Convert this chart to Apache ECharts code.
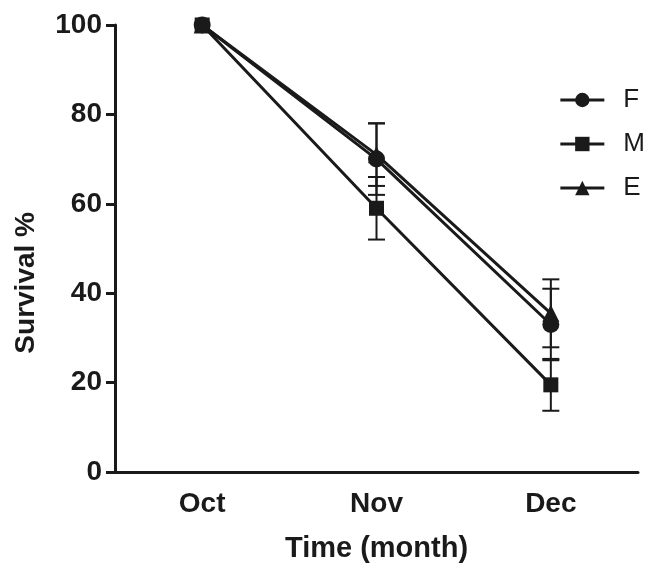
<!DOCTYPE html>
<html>
<head>
<meta charset="utf-8">
<script src="https://cdn.jsdelivr.net/npm/echarts@6/dist/echarts.min.js"></script>
<style>html,body{margin:0;padding:0;background:#fff;}#c{width:654px;height:568px;}</style>
</head>
<body>
<div id="c"></div>
<script>
var categories = ['Oct', 'Nov', 'Dec'];
var seriesNames = ['F', 'M', 'E'];
var valuesF = [100, 70, 33];
var valuesM = [100, 59, 19.5];
var valuesE = [100, 71, 35.5];
var errF = [0, 8, 8];
var errM = [0, 7, 5.8];
var errE = [0, 7, 7.6];
var yTicks = [0, 20, 40, 60, 80, 100];

var chart = echarts.init(document.getElementById('c'));
var FONT = '"Liberation Sans", Arial, sans-serif';
var BLACK = '#1a1a1a';

function errData(vals, errs) {
  var out = [];
  for (var i = 0; i < vals.length; i++) {
    if (errs[i] > 0) out.push([i, vals[i] - errs[i], vals[i] + errs[i]]);
  }
  return out;
}
function errSeries(vals, errs) {
  return {
    type: 'custom',
    data: errData(vals, errs),
    z: 1,
    silent: true,
    renderItem: function (params, api) {
      var lo = api.coord([api.value(0), api.value(1)]);
      var hi = api.coord([api.value(0), api.value(2)]);
      var hw = 8.5;
      var st = { stroke: BLACK, lineWidth: 2 };
      return {
        type: 'group',
        children: [
          { type: 'line', shape: { x1: hi[0], y1: hi[1], x2: lo[0], y2: lo[1] }, style: st },
          { type: 'line', shape: { x1: hi[0] - hw, y1: hi[1], x2: hi[0] + hw, y2: hi[1] }, style: st },
          { type: 'line', shape: { x1: lo[0] - hw, y1: lo[1], x2: lo[0] + hw, y2: lo[1] }, style: st }
        ]
      };
    }
  };
}
function lineSeries(name, vals, symbol, size, z) {
  return {
    name: name,
    type: 'line',
    data: vals,
    symbol: symbol,
    symbolSize: size,
    z: z,
    lineStyle: { color: BLACK, width: 3 },
    itemStyle: { color: BLACK },
    showAllSymbol: true,
    animation: false
  };
}

chart.setOption({
  animation: false,
  backgroundColor: '#fff',
  grid: { left: 115, right: 16, top: 25, bottom: 94, containLabel: false },
  legend: {
    orient: 'vertical',
    right: 4,
    top: 82,
    itemGap: 18,
    itemWidth: 44,
    itemHeight: 18,
    lineStyle: { width: 3, color: BLACK },
    itemStyle: { color: BLACK },
    data: ['F', 'M', 'E'],
    textStyle: { fontFamily: FONT, fontSize: 26, color: BLACK, padding: [0, 0, 0, 14] }
  },
  xAxis: {
    type: 'category',
    data: categories,
    boundaryGap: true,
    name: 'Time (month)',
    nameLocation: 'middle',
    nameGap: 62,
    nameTextStyle: { fontFamily: FONT, fontSize: 29, fontWeight: 'bold', color: BLACK },
    axisLine: { lineStyle: { color: BLACK, width: 3 } },
    axisTick: { alignWithLabel: true, length: 8, lineStyle: { color: BLACK, width: 3 } },
    axisLabel: { fontFamily: FONT, fontSize: 28, fontWeight: 'bold', color: BLACK, margin: 18 }
  },
  yAxis: {
    type: 'value',
    min: 0,
    max: 100,
    interval: 20,
    axisLine: { show: true, lineStyle: { color: BLACK, width: 3 } },
    axisTick: { show: true, length: 9, lineStyle: { color: BLACK, width: 3 } },
    splitLine: { show: false },
    axisLabel: {
      fontFamily: FONT, fontSize: 28, fontWeight: 'bold', color: BLACK, margin: 13,
      formatter: function (v) { return yTicks.indexOf(v) >= 0 ? String(v) : ''; }
    }
  },
  graphic: [{
    type: 'text',
    left: 12,
    top: 212,
    rotation: Math.PI / 2,
    style: { text: 'Survival %', font: 'bold 28px ' + FONT, fill: BLACK }
  }],
  series: [
    errSeries(valuesF, errF),
    errSeries(valuesM, errM),
    errSeries(valuesE, errE),
    lineSeries('F', valuesF, 'circle', 17, 3),
    lineSeries('E', valuesE, 'triangle', 17, 3),
    lineSeries('M', valuesM, 'rect', 15, 4)
  ]
});
</script>
</body>
</html>
